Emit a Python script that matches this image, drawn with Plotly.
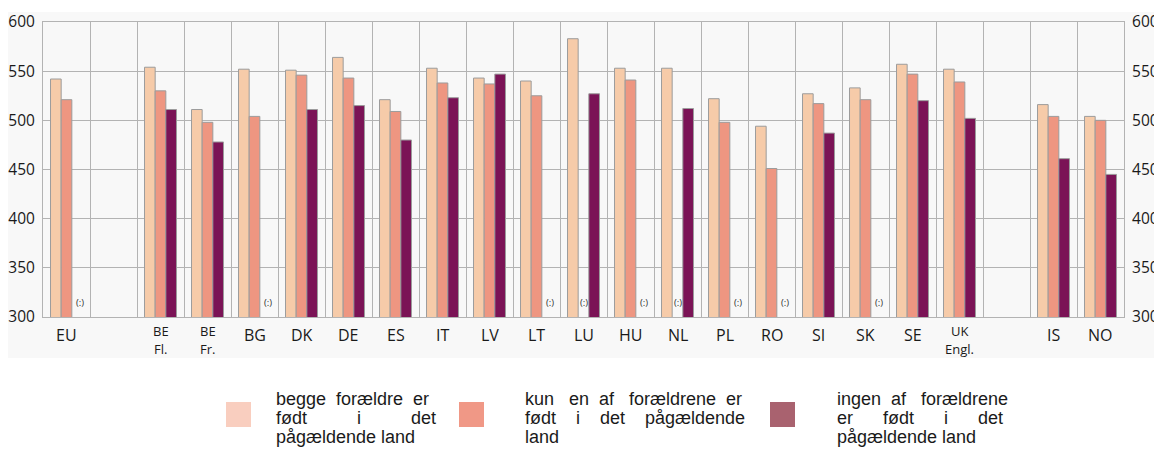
import plotly.graph_objects as go

# ---------------- data ----------------
categories = ["EU", " ", "BE\nFl.", "BE\nFr.", "BG", "DK", "DE", "ES", "IT", "LV", "LT",
              "LU", "HU", "NL", "PL", "RO", "SI", "SK", "SE", "UK\nEngl.", "  ", "IS", "NO"]

both_native = [542, None, 554, 511, 552, 551, 564, 521, 553, 543, 540,
               583, 553, 553, 522, 494, 527, 533, 557, 552, None, 516, 504]
one_native = [521, None, 530, 498, 504, 546, 543, 509, 538, 537, 525,
              None, 541, None, 498, 451, 517, 521, 547, 539, None, 504, 500]
none_native = [None, None, 511, 478, None, 511, 515, 480, 523, 547, None,
               527, None, 512, None, None, 487, None, 520, 502, None, 461, 445]

series_names = ["begge forældre er født i det pågældende land",
                "kun en af forældrene er født i det pågældende land",
                "ingen af forældrene er født i det pågældende land"]
series_values = [both_native, one_native, none_native]
bar_colors = ["#F6CBA9", "#EE9681", "#7B1356"]
legend_colors = ["#F9CEBF", "#F09886", "#A9626F"]

# justified legend text (lines)
NB = "\u00a0"
legend_lines = [
    ["begge" + NB * 2 + "forældre" + NB * 2 + "er",
     "født" + NB * 10 + "i" + NB * 10 + "det",
     "pågældende land"],
    ["kun" + NB * 3 + "en" + NB * 2 + "af" + NB * 3 + "forældrene" + NB * 2 + "er",
     "født" + NB * 4 + "i" + NB * 4 + "det" + NB * 4 + "pågældende",
     "land"],
    ["ingen" + NB * 2 + "af" + NB * 3 + "forældrene",
     "er" + NB * 6 + "født" + NB * 6 + "i" + NB * 6 + "det",
     "pågældende land"],
]

y_ticks = [300, 350, 400, 450, 500, 550, 600]
missing_label = "(:)"

# ---------------- layout geometry ----------------
PAGE_W, PAGE_H = 1162, 451
OFF = 8                      # default page body margin of the html page
W, H = PAGE_W - OFF, PAGE_H - OFF
ML, MR, MT, MB = 43 - OFF, 38, 22 - OFF, 134
PW, PH = W - ML - MR, H - MT - MB
BARGAP = 0.32
slot_px = PW / len(categories)
bar_px = slot_px * (1 - BARGAP) / 3


def px_x(px):
    """page pixel -> paper x"""
    return (px - OFF - ML) / PW


def px_y(py):
    """page pixel -> paper y"""
    return (H - MB - (py - OFF)) / PH


GRID = "#b3b3b3"
FONT = "Open Sans"

fig = go.Figure()
for name, vals, col in zip(series_names, series_values, bar_colors):
    fig.add_trace(go.Bar(
        x=categories, y=vals, name=name,
        marker=dict(color=col, line=dict(color="#9c9c9c", width=1)),
        showlegend=False, hoverinfo="x+y",
    ))
# dummy trace for the right axis
fig.add_trace(go.Scatter(x=[categories[0]], y=[None], yaxis="y2",
                         showlegend=False, hoverinfo="skip", mode="lines"))

annotations = []
# "(:)" markers for missing values
for si, vals in enumerate(series_values):
    for cat, v in zip(categories, vals):
        if v is None and cat.strip():
            annotations.append(dict(
                x=cat, y=300, xref="x", yref="y", text=missing_label,
                showarrow=False, yanchor="middle", xanchor="center",
                xshift=(si - 1) * bar_px + (3 if si == 2 else 0), yshift=15,
                font=dict(family=FONT, size=9.5, color="#333333"),
            ))

# x category labels
plot_bottom_page = PAGE_H - MB
for cat in categories:
    lines = cat.strip().split("\n") if cat.strip() else []
    if len(lines) == 1:
        annotations.append(dict(
            x=cat, y=0, xref="x", yref="paper", text=lines[0], showarrow=False,
            yanchor="middle", xanchor="center", yshift=-(335 - plot_bottom_page),
            font=dict(family=FONT, size=16, color="#1a1a1a"),
        ))
    elif len(lines) == 2:
        for txt, py in zip(lines, [330.5, 349]):
            annotations.append(dict(
                x=cat, y=0, xref="x", yref="paper", text=txt, showarrow=False,
                yanchor="middle", xanchor="center", yshift=-(py - plot_bottom_page),
                font=dict(family=FONT, size=13, color="#1a1a1a"),
            ))

# legend (squares + justified text)
shapes = [dict(type="rect", xref="paper", yref="paper", x0=px_x(OFF), x1=px_x(PAGE_W),
               y0=px_y(358), y1=px_y(12), fillcolor="#f8f8f8", line=dict(width=0),
               layer="below")]
sq_x = [226, 459, 770]
txt_x = [274, 523, 835]
line_y = [399, 418, 437.5]
for i in range(3):
    shapes.append(dict(type="rect", xref="paper", yref="paper",
                       x0=px_x(sq_x[i]), x1=px_x(sq_x[i] + 25),
                       y0=px_y(427), y1=px_y(402),
                       fillcolor=legend_colors[i], line=dict(width=0)))
    for txt, py in zip(legend_lines[i], line_y):
        annotations.append(dict(
            x=px_x(txt_x[i]), y=px_y(py), xref="paper", yref="paper",
            text=txt, showarrow=False, align="left",
            xanchor="left", yanchor="middle",
            font=dict(family="Liberation Sans", size=18, color="#1a1a1a"),
        ))

axis_y = dict(range=[300, 600], tickvals=y_ticks, showgrid=True, gridcolor=GRID,
              gridwidth=1, zeroline=False, ticks="", showline=True, linecolor=GRID,
              tickfont=dict(family=FONT, size=15.5, color="#1a1a1a"), fixedrange=True,
              automargin=False)

fig.update_layout(
    width=W, height=H,
    margin=dict(l=ML, r=MR, t=MT, b=MB, pad=0, autoexpand=False),
    paper_bgcolor="white", plot_bgcolor="rgba(0,0,0,0)",
    barmode="group", bargap=BARGAP, bargroupgap=0,
    xaxis=dict(type="category", categoryorder="array", categoryarray=categories,
               range=[-0.5, len(categories) - 0.5], autorange=False,
               tickson="boundaries", showgrid=True, gridcolor=GRID, gridwidth=1,
               showticklabels=False, ticks="", showline=True, linecolor=GRID,
               mirror=True, zeroline=False, automargin=False, fixedrange=True),
    yaxis=dict(**axis_y, side="left", ticklabelstandoff=4),
    yaxis2=dict(**axis_y, side="right", overlaying="y", ticklabelstandoff=4),
    annotations=annotations, shapes=shapes, showlegend=False,
)

fig.write_html("out.html")
